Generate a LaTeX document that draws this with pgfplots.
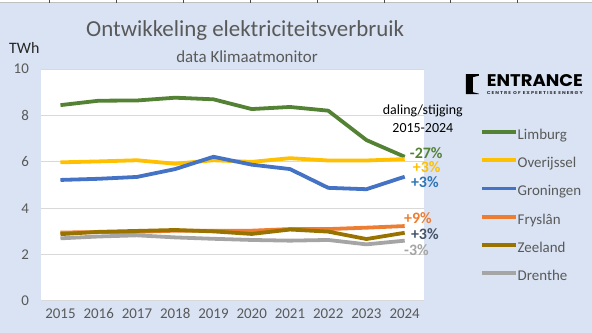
\documentclass[border=0pt]{standalone}
\usepackage{pgfplots}
\pgfplotsset{compat=1.18}
\usepackage{fontspec}
\setmainfont{Carlito}
\newfontfamily\logofont{Poppins}
\definecolor{bg}{HTML}{DAE3F3}
\definecolor{tgray}{HTML}{595959}
\definecolor{gridgray}{HTML}{D9D9D9}
\definecolor{limb}{HTML}{548235}
\definecolor{overij}{HTML}{FFC000}
\definecolor{gron}{HTML}{4472C4}
\definecolor{frys}{HTML}{ED7D31}
\definecolor{zee}{HTML}{997300}
\definecolor{dren}{HTML}{A5A5A5}
\definecolor{gronlab}{HTML}{2E75B6}
\definecolor{slate}{HTML}{44546A}
\begin{document}
\begin{tikzpicture}
\fill[bg] (0,0) rectangle (592bp,333bp);
\fill[white] (0,330bp) rectangle (592bp,333bp);
\draw[black!25, line width=0.8bp] (0,330.5bp) -- (592bp,330.5bp);
\foreach \x in {49,116,183,250,317,384,451,518} \draw[black!70,line width=0.6bp] (\x bp,330.5bp) -- (\x bp,333bp);
\path[use as bounding box] (0,0) rectangle (592bp,333bp);
\node[text=tgray, font=\fontsize{23}{26}\selectfont] at (245bp,303bp) {Ontwikkeling elektriciteitsverbruik};
\node[text=tgray, font=\fontsize{17}{20}\selectfont] at (247bp,277bp) {data Klimaatmonitor};
\node[text=black!85, font=\fontsize{16}{19}\selectfont] at (24bp,285bp) {TWh};
% logo
\fill[black] (466bp,259bp) -- (479bp,259bp) -- (479bp,257.5bp) -- (473bp,256bp) -- (473bp,241bp) -- (479bp,239.5bp) -- (479bp,239bp) -- (466bp,239bp) -- cycle;
\node[anchor=west, inner sep=0pt] at (487bp,252.5bp) {\resizebox{96bp}{12bp}{\logofont\bfseries ENTRANCE}};
\node[anchor=west, inner sep=0pt, text=black!80] at (487bp,240bp) {\resizebox{96bp}{3bp}{\logofont\bfseries C E N T R E\ \ O F\ \ E X P E R T I S E\ \ E N E R G Y}};
\begin{axis}[
  at={(41bp,32bp)}, anchor=south west,
  scale only axis, width=383bp, height=232bp,
  xmin=2014.5, xmax=2024.5, ymin=0, ymax=10,
  xtick={2015,...,2024}, ytick={0,2,...,10},
  ymajorgrids, grid style={draw=gridgray, line width=0.8bp},
  axis line style={draw=none},
  major tick length=0pt,
  /pgf/number format/assume math mode=true,
  /pgf/number format/1000 sep={},
  xticklabel style={font=\fontsize{15}{18}\selectfont, text=tgray, yshift=-4bp},
  yticklabel style={font=\fontsize{15}{18}\selectfont, text=tgray, xshift=-9bp},
  axis background/.style={fill=white},
  clip=false,
  every axis plot/.append style={line width=3.8bp, line join=round},
  legend cell align=left,
  legend image code/.code={\draw[line width=3.8bp] (0bp,3.5bp) -- (34bp,3.5bp);},
  legend style={at={(1.1384,0.754)}, anchor=north west, draw=none, fill=none,
    font=\fontsize{15}{18}\selectfont, text=tgray, row sep=14.3bp,
    nodes={inner sep=0pt, text height=11bp, text depth=3bp},
    /tikz/every even column/.append style={column sep=2bp}},
]
\addplot[color=limb] coordinates {(2015,8.45) (2016,8.64) (2017,8.65) (2018,8.77) (2019,8.70) (2020,8.28) (2021,8.37) (2022,8.21) (2023,6.94) (2024,6.22)};
\addlegendentry{Limburg}
\addplot[color=overij] coordinates {(2015,5.98) (2016,6.02) (2017,6.07) (2018,5.92) (2019,6.07) (2020,6.00) (2021,6.16) (2022,6.06) (2023,6.06) (2024,6.12)};
\addlegendentry{Overijssel}
\addplot[color=gron] coordinates {(2015,5.22) (2016,5.27) (2017,5.35) (2018,5.69) (2019,6.22) (2020,5.88) (2021,5.69) (2022,4.88) (2023,4.82) (2024,5.36)};
\addlegendentry{Groningen}
\addplot[color=frys] coordinates {(2015,2.95) (2016,2.97) (2017,2.98) (2018,3.03) (2019,3.03) (2020,3.03) (2021,3.10) (2022,3.10) (2023,3.16) (2024,3.23)};
\addlegendentry{Fryslân}
\addplot[color=zee] coordinates {(2015,2.88) (2016,2.98) (2017,3.02) (2018,3.06) (2019,3.00) (2020,2.89) (2021,3.08) (2022,2.99) (2023,2.67) (2024,2.94)};
\addlegendentry{Zeeland}
\addplot[color=dren] coordinates {(2015,2.70) (2016,2.78) (2017,2.83) (2018,2.74) (2019,2.68) (2020,2.63) (2021,2.60) (2022,2.63) (2023,2.44) (2024,2.60)};
\addlegendentry{Drenthe}
\begin{scope}[every node/.style={anchor=west, inner sep=0pt, font=\fontsize{16}{19}\selectfont\bfseries}]
\node[text=limb] at (axis cs:2024.13,6.40) {-27\%};
\node[text=overij] at (axis cs:2024.21,5.77) {+3\%};
\node[text=gronlab] at (axis cs:2024.16,5.12) {+3\%};
\node[text=frys] at (axis cs:2023.98,3.58) {+9\%};
\node[text=slate] at (axis cs:2024.16,2.89) {+3\%};
\node[text=dren] at (axis cs:2023.98,2.20) {-3\%};
\end{scope}
\end{axis}
\node[text=black, font=\fontsize{14}{17}\selectfont] at (423bp,222bp) {daling/stijging};
\node[text=black, font=\fontsize{14}{17}\selectfont] at (423bp,205bp) {2015-2024};
\end{tikzpicture}
\end{document}
